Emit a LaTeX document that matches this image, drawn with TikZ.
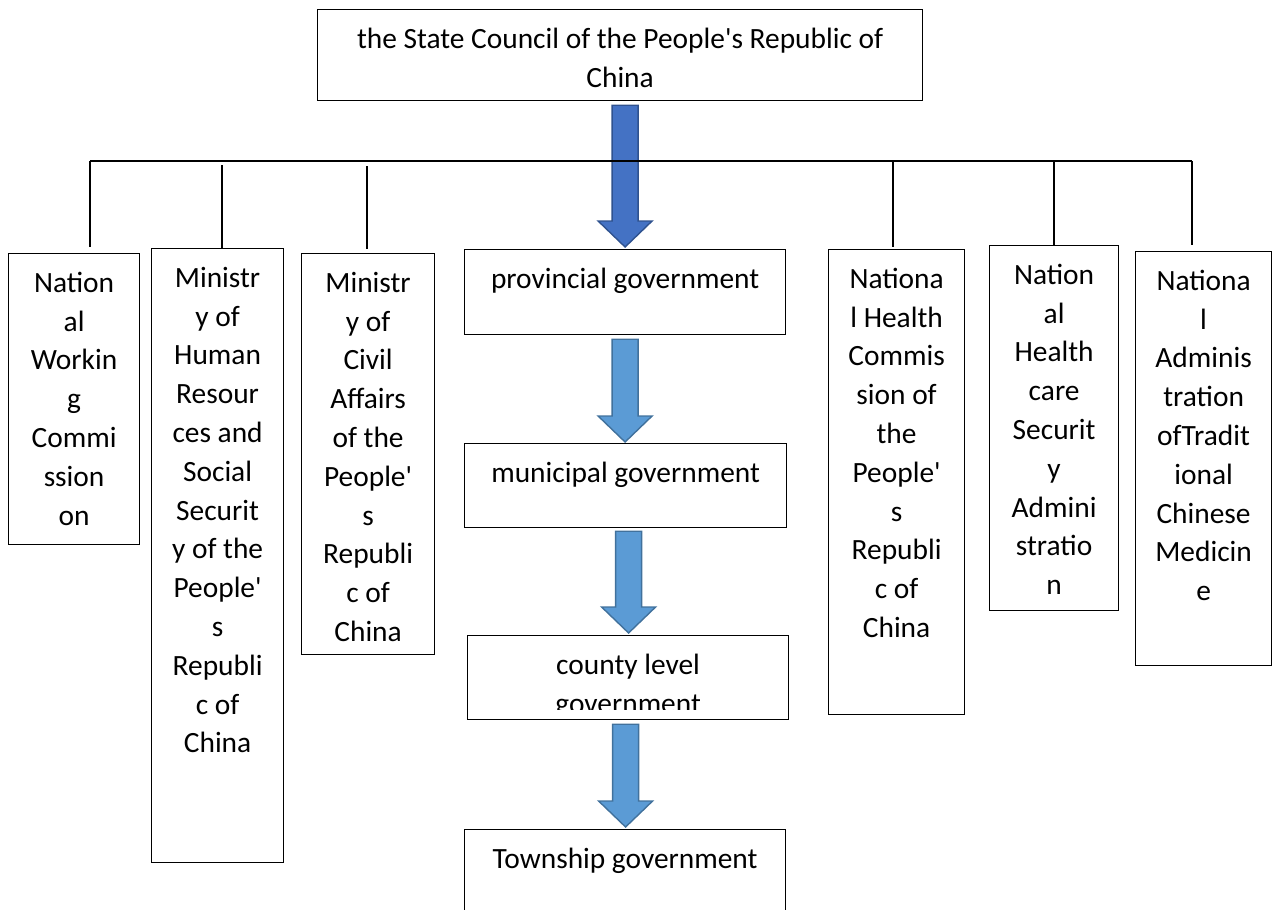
\documentclass[tikz,border=0pt]{standalone}
\usepackage{fontspec}
\setmainfont{Carlito}[Ligatures=TeXOff]
\usetikzlibrary{calc}
\definecolor{arrfill}{HTML}{5B9BD5}
\definecolor{arredge}{HTML}{41719C}
\definecolor{topfill}{HTML}{4472C4}
\definecolor{topedge}{HTML}{2F528F}
\newcommand\fs{\fontsize{29.4}{38.8}\selectfont}
\newcommand\st{\rule{0pt}{24pt}}
\newcommand\blockarr[3]{%
  \coordinate (tmpT) at (#1 |- #2);
  \filldraw[#3] ($(#1)+(-13,0)$) -- ($(tmpT)+(-13,-26)$) -- ($(tmpT)+(-27,-26)$) -- (tmpT)
    -- ($(tmpT)+(27,-26)$) -- ($(tmpT)+(13,-26)$) -- ($(#1)+(13,0)$) -- cycle;}
\begin{document}
\begin{tikzpicture}[x=1pt,y=-1pt,
  box/.style={draw, line width=1.2pt, inner sep=0pt, anchor=north west},
  txt/.style={anchor=north, inner sep=0pt, align=center, font=\fs},
  wire/.style={line width=1.2pt},
  lightarr/.style={fill=arrfill, draw=arredge, line width=1.4pt, line join=miter},
  darkarr/.style={fill=topfill, draw=topedge, line width=1.4pt, line join=miter}]
\useasboundingbox (0,0) rectangle (1272,910);
\clip (0,0) rectangle (1272,910);

% boxes
\node[box, minimum width=605, minimum height=91] (top) at (317,9) {};
\node[box, minimum width=131, minimum height=291] (b1) at (8,253) {};
\node[box, minimum width=132, minimum height=614] (b2) at (151,248) {};
\node[box, minimum width=133, minimum height=401] (b3) at (301,253) {};
\node[box, minimum width=321, minimum height=85] (prov) at (464,249) {};
\node[box, minimum width=322, minimum height=84] (mun) at (464,443) {};
\node[box, minimum width=321, minimum height=84] (cty) at (467,635) {};
\node[box, minimum width=321, minimum height=110] (town) at (464,829) {};
\node[box, minimum width=136, minimum height=465] (b5) at (828,249) {};
\node[box, minimum width=129, minimum height=365] (b6) at (989,245) {};
\node[box, minimum width=136, minimum height=414] (b7) at (1135,251) {};

% texts
\node[txt] (ttop) at ($(top.north)+(0,15)$) {\st the State Council of the People's Republic of\\China};
\node[txt] (tb1) at ($(b1.north)+(0,15)$) {\st Nation\\al\\Workin\\g\\Commi\\ssion\\on};
\node[txt] (tb2) at ($(b2.north)+(0,15)$) {\st Ministr\\y of\\Human\\Resour\\ces and\\Social\\Securit\\y of the\\People'\\s\\Republi\\c of\\China};
\node[txt] (tb3) at ($(b3.north)+(0,15)$) {\st Ministr\\y of\\Civil\\Affairs\\of the\\People'\\s\\Republi\\c of\\China};
\node[txt] (tprov) at ($(prov.north)+(0,15)$) {\st provincial government};
\node[txt] (tmun) at ($(mun.north)+(0,15)$) {\st municipal government};
\begin{scope}
  \clip ($(cty.north west)$) rectangle ($(cty.south east)+(0,-11)$);
  \node[txt] (tcty) at ($(cty.north)+(0,15)$) {\st county level\\government};
\end{scope}
\node[txt] (ttown) at ($(town.north)+(0,15)$) {\st Township government};
\node[txt] (tb5) at ($(b5.north)+(0,15)$) {\st Nationa\\l Health\\Commis\\sion of\\the\\People'\\s\\Republi\\c of\\China};
\node[txt] (tb6) at ($(b6.north)+(0,15)$) {\st Nation\\al\\Health\\care\\Securit\\y\\Admini\\stratio\\n};
\node[txt] (tb7) at ($(b7.north)+(0,15)$) {\st Nationa\\l\\Adminis\\tration\\ofTradit\\ional\\Chinese\\Medicin\\e};

% block arrows
\coordinate (a0s) at ($(prov.north |- top.south)+(0,4)$);
\coordinate (a0t) at ($(prov.north)+(0,-2)$);
\blockarr{a0s}{a0t}{darkarr}
\coordinate (a1s) at ($(prov.south)+(0,4)$);
\coordinate (a1t) at ($(mun.north)+(0,-1)$);
\blockarr{a1s}{a1t}{lightarr}
\coordinate (a2s) at ($(mun.south)+(3,3)$);
\coordinate (a2t) at ($(cty.north)+(0,-2)$);
\blockarr{a2s}{a2t}{lightarr}
\coordinate (a3s) at ($(cty.south)+(-2.5,4)$);
\coordinate (a3t) at ($(town.north)+(0,-2)$);
\blockarr{a3s}{a3t}{lightarr}

% bus lines
\coordinate (busL) at (90,161);
\coordinate (busR) at (1192,161);
\draw[wire] (busL) -- (busR);
\coordinate (v1t) at (90,161);   \coordinate (v1b) at (90,247);
\coordinate (v2t) at (222,165);  \coordinate (v2b) at (222,248);
\coordinate (v3t) at (367,166);  \coordinate (v3b) at (367,249);
\coordinate (v5t) at (893,161);  \coordinate (v5b) at (893,247);
\coordinate (v6t) at (1054,161); \coordinate (v6b) at (1054,245);
\coordinate (v7t) at (1192,161); \coordinate (v7b) at (1192,245);
\draw[wire] (v1t) -- (v1b);
\draw[wire] (v2t) -- (v2b);
\draw[wire] (v3t) -- (v3b);
\draw[wire] (v5t) -- (v5b);
\draw[wire] (v6t) -- (v6b);
\draw[wire] (v7t) -- (v7b);
\end{tikzpicture}
\end{document}
